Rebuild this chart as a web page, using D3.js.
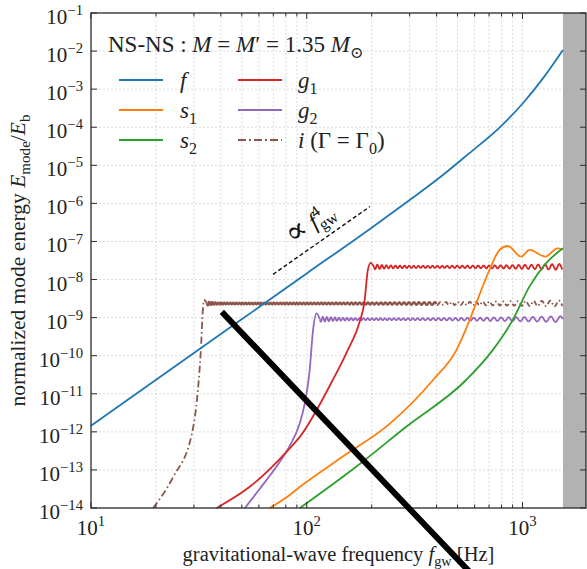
<!DOCTYPE html>
<html>
<head>
<meta charset="utf-8">
<script src="https://cdn.jsdelivr.net/npm/d3@7"></script>
<style>
  body { margin: 0; background: #fff; }
  svg { display: block; font-family: "Liberation Serif", "DejaVu Serif", serif; }
  text { white-space: pre; }
</style>
</head>
<body>
<svg id="chart" width="587" height="569"></svg>
<script>
// Tidally excited mode energies for an equal-mass NS-NS inspiral (M = M' = 1.35 Msun).
// Each series: [gravitational-wave frequency (Hz), E_mode / E_b]
const fMode  = [[10,1.45e-12],[30,1.17e-10],[100,1.45e-8],[200,2.3e-7],[300,1.23e-6],[398,4.04e-6],
                [562,2.0e-5],[783,9.8e-5],[1000,4.13e-4],[1259,2.1e-3],[1540,1.07e-2]];
const s1Mode = [[67.4,1e-14],[83.4,2.2e-14],[93,3.6e-14],[147,2.24e-13],[242,1.62e-12],[385,2.3e-11],
                [493,1.38e-10],[550,5.4e-10],[610,2.4e-9],[703,1.78e-8],[783,6e-8],[855,7.6e-8],
                [986,4e-8],[1077,6e-8],[1277,4e-8],[1452,6.6e-8],[1540,6.2e-8]];
const s2Mode = [[93,1e-14],[170,1.23e-13],[290,1.38e-12],[548,2.3e-11],[728,1.4e-10],[902,8.7e-10],
                [1077,6.5e-9],[1288,2.7e-8],[1540,6.6e-8]];
const g1Mode = [[38.2,1e-14],[54.4,3.6e-14],[83.4,3.7e-13],[92.9,7.4e-13],[132,2.3e-11],[155,1.4e-10],
                [176,7.8e-10],[185,2.5e-9],[192,1.8e-8],[198,2.75e-8],[205,2.15e-8],[1540,2.15e-8]];
const g2Mode = [[51.7,1e-14],[60.5,3.16e-14],[72.4,1.23e-13],[83.4,4.27e-13],[92.9,1.7e-12],[98,5.7e-12],
                [103,3.7e-11],[107,4.8e-10],[111,1.3e-9],[115,9.1e-10],[1540,9.1e-10]];
const iMode  = [[19.4,1e-14],[24,6.4e-14],[29.4,9.3e-13],[31.3,1.26e-11],[32.3,1.4e-10],[33,1.6e-9],
                [33.4,2.9e-9],[34.5,2.35e-9],[1540,2.35e-9]];

const contactFreq = 1540;                 // start of the shaded post-contact band
const xDomain = [10, 1970];
const yExponents = [-14,-13,-12,-11,-10,-9,-8,-7,-6,-5,-4,-3,-2,-1];
const xMajor = [10, 100, 1000];
const xMinor = [20,30,40,50,60,70,80,90,200,300,400,500,600,700,800,900];
const xMajorLabels = ["1", "2", "3"];
const slopeGuide = [[69.8,1.37e-8],[196,8.2e-7]];   // reference line ∝ f^4
const strokeLine = [[40.4,1.41e-9],[569,2.1e-16]];

// ---------- layout & styles ----------
const svg = d3.select("#chart");
const P = { left: 91, right: 586, top: 13, bottom: 508 };
const x = d3.scaleLog().domain(xDomain).range([P.left, P.right]);
const y = d3.scaleLog().domain([1e-14, 1e-1]).range([P.bottom, P.top]);

const colors = { f:"#1f77b4", s1:"#ff7f0e", s2:"#2ca02c", g1:"#d62728", g2:"#9467bd", i:"#8c564b" };
const dashDot = "7,3,1.6,3";
const axisColor = "#2b2b2b";
const TICK = 21, XLAB = 20.5, YLAB = 21.5, LEG = 23, NOTE = 23;

// rich text: parts with italic / sub / sup runs
function rich(sel, parts, size) {
  let shift = 0;
  parts.forEach(p => {
    const target = p.sub ? size * 0.24 : p.sup ? -size * 0.42 : 0;
    const ts = sel.append("tspan").attr("dy", target - shift).text(p.t);
    shift = target;
    ts.attr("font-size", (p.sub || p.sup) ? size * 0.7 : size * (p.scale || 1));
    if (p.it) ts.attr("font-style", "italic");
    if (p.dx) ts.attr("dx", p.dx);
    if (p.fam) ts.attr("font-family", p.fam);
  });
  return sel;
}

// ---------- grid ----------
const grid = svg.append("g").attr("stroke", "#d8d8d8").attr("stroke-width", 0.9)
  .attr("stroke-dasharray", "2,2");
xMajor.concat(xMinor).filter(v => v > xDomain[0]).forEach(v => {
  grid.append("line").attr("x1", x(v)).attr("x2", x(v)).attr("y1", P.top).attr("y2", P.bottom);
});
yExponents.forEach(e => {
  grid.append("line").attr("x1", P.left).attr("x2", P.right)
    .attr("y1", y(Math.pow(10, e))).attr("y2", y(Math.pow(10, e)));
});

// ---------- shaded band ----------
svg.append("rect").attr("x", x(contactFreq)).attr("y", P.top)
  .attr("width", x(xDomain[1]) - x(contactFreq)).attr("height", P.bottom - P.top)
  .attr("fill", "#b2b2b2");

// ---------- curves ----------
const line = d3.line().x(d => x(d[0])).y(d => y(d[1])).curve(d3.curveMonotoneX);
const plain = d3.line();

// ringing drawn along a flat plateau, in screen space
const ringStyle = {
  g1: { start: 2.6, base: 1.0, end: 3.0, decay: 14, p0: 4.5, p1: 7.5 },
  g2: { start: 2.8, base: 0.9, end: 3.0, decay: 18, p0: 4.0, p1: 10 },
  i:  { start: 2.2, base: 0.8, end: 3.0, decay: 6,  p0: 3.0, p1: 9 }
};
function ringPoints(series, st) {
  const a = series[series.length - 2], b = series[series.length - 1];
  const x0 = x(a[0]), x1 = x(b[0]), y0 = y(a[1]);
  const pts = [];
  let phase = 0;
  for (let px = x0; px <= x1; px += 0.5) {
    const t = (px - x0) / (x1 - x0);
    const amp = st.base + (st.start - st.base) * Math.exp(-(px - x0) / st.decay)
              + (st.end - st.base) * Math.pow(t, 3);
    const period = st.p0 + (st.p1 - st.p0) * t * t;
    pts.push([px, y0 + amp * Math.sin(2 * Math.PI * phase)]);
    phase += 0.5 / period;
  }
  return pts;
}

const curves = svg.append("g").attr("fill", "none").attr("stroke-width", 1.8)
  .attr("stroke-linejoin", "round");

// i-mode: dash-dot rise, dense ringing (looks solid) then dash-dot tail
curves.append("path").attr("d", line(iMode.slice(0, -1)))
  .attr("stroke", colors.i).attr("stroke-dasharray", dashDot);
{
  const pts = ringPoints(iMode, ringStyle.i);
  const cut = x(400);
  curves.append("path").attr("d", plain(pts.filter(p => p[0] <= cut)))
    .attr("stroke", colors.i).attr("stroke-width", 2.4);
  curves.append("path").attr("d", plain(pts.filter(p => p[0] >= cut)))
    .attr("stroke", colors.i).attr("stroke-dasharray", "5,2.5,1.5,2.5");
}
// g-modes with plateau ringing
[["g2", g2Mode], ["g1", g1Mode]].forEach(([k, s]) => {
  curves.append("path").attr("d", line(s.slice(0, -1))).attr("stroke", colors[k]);
  curves.append("path").attr("d", plain(ringPoints(s, ringStyle[k]))).attr("stroke", colors[k]);
});
// s-modes and f-mode
[["s1", s1Mode], ["s2", s2Mode], ["f", fMode]].forEach(([k, s]) => {
  curves.append("path").attr("d", line(s)).attr("stroke", colors[k]);
});

// ∝ f^4 guide
svg.append("path").attr("d", plain(slopeGuide.map(d => [x(d[0]), y(d[1])])))
  .attr("stroke", "#111").attr("stroke-width", 1.4).attr("stroke-dasharray", "4,2.5").attr("fill", "none");
{
  const cx = x(109), cy = y(2.0e-7);
  const t = svg.append("text").attr("transform", `translate(${cx},${cy}) rotate(-35)`)
    .attr("text-anchor", "middle").attr("font-size", NOTE).attr("fill", "#111");
  rich(t, [{ t: "∝", fam: "DejaVu Serif", scale: 1.35 }, { t: " " }, { t: "f", it: true }, { t: "4", sup: true },
           { t: "gw", sub: true, dx: -8 }], NOTE);
}

// ---------- axes frame & ticks ----------
const ax = svg.append("g").attr("stroke", axisColor);
ax.append("rect").attr("x", P.left).attr("y", P.top).attr("width", P.right - P.left)
  .attr("height", P.bottom - P.top).attr("fill", "none").attr("stroke-width", 1.3);
xMajor.forEach(v => {
  ax.append("line").attr("x1", x(v)).attr("x2", x(v)).attr("y1", P.bottom).attr("y2", P.bottom - 6);
  ax.append("line").attr("x1", x(v)).attr("x2", x(v)).attr("y1", P.top).attr("y2", P.top + 6);
});
xMinor.forEach(v => {
  ax.append("line").attr("x1", x(v)).attr("x2", x(v)).attr("y1", P.bottom).attr("y2", P.bottom - 3.5);
  ax.append("line").attr("x1", x(v)).attr("x2", x(v)).attr("y1", P.top).attr("y2", P.top + 3.5);
});
yExponents.forEach(e => {
  const yy = y(Math.pow(10, e));
  ax.append("line").attr("x1", P.left).attr("x2", P.left + 6).attr("y1", yy).attr("y2", yy);
  ax.append("line").attr("x1", P.right).attr("x2", P.right - 6).attr("y1", yy).attr("y2", yy);
});

// tick labels
yExponents.forEach(e => {
  const t = svg.append("text").attr("x", 83).attr("y", y(Math.pow(10, e)) + 11)
    .attr("text-anchor", "end").attr("font-size", TICK).attr("fill", "#222");
  rich(t, [{ t: "10" }, { t: "−" + Math.abs(e), sup: true }], TICK);
});
xMajor.forEach((v, i) => {
  const t = svg.append("text").attr("x", x(v)).attr("y", 535)
    .attr("text-anchor", "middle").attr("font-size", TICK).attr("fill", "#222");
  rich(t, [{ t: "10" }, { t: xMajorLabels[i], sup: true }], TICK);
});

// axis titles
{
  const t = svg.append("text").attr("x", (P.left + P.right) / 2).attr("y", 561)
    .attr("text-anchor", "middle").attr("font-size", XLAB).attr("fill", "#222");
  rich(t, [{ t: "gravitational-wave frequency " }, { t: "f", it: true }, { t: "gw", sub: true }, { t: " [Hz]" }], XLAB);
  const u = svg.append("text").attr("transform", `translate(25,${(P.top + P.bottom) / 2}) rotate(-90)`)
    .attr("text-anchor", "middle").attr("font-size", YLAB).attr("fill", "#222");
  rich(u, [{ t: "normalized mode energy " }, { t: "E", it: true }, { t: "mode", sub: true },
           { t: "/" }, { t: "E", it: true }, { t: "b", sub: true }], YLAB);
}

// ---------- legend ----------
const legendCols = [
  [{ k: "f", label: [{ t: "f", it: true }] },
   { k: "s1", label: [{ t: "s", it: true }, { t: "1", sub: true }] },
   { k: "s2", label: [{ t: "s", it: true }, { t: "2", sub: true }] }],
  [{ k: "g1", label: [{ t: "g", it: true }, { t: "1", sub: true }] },
   { k: "g2", label: [{ t: "g", it: true }, { t: "2", sub: true }] },
   { k: "i", label: [{ t: "i", it: true }, { t: " (Γ = Γ" }, { t: "0", sub: true }, { t: ")" }], dash: true }]
];
const leg = svg.append("g");
{
  const t = leg.append("text").attr("x", 108).attr("y", 52).attr("font-size", LEG).attr("fill", "#222");
  rich(t, [{ t: "NS-NS : " }, { t: "M", it: true }, { t: " = " }, { t: "M", it: true }, { t: "′ = 1.35 " },
           { t: "M", it: true }, { t: "⊙", sub: true }], LEG);
}
const colX = [[119, 163, 180], [238, 282, 298]];
legendCols.forEach((col, ci) => {
  col.forEach((ent, ri) => {
    const ly = 80 + ri * 30;
    leg.append("line").attr("x1", colX[ci][0]).attr("x2", colX[ci][1]).attr("y1", ly).attr("y2", ly)
      .attr("stroke", colors[ent.k]).attr("stroke-width", 2)
      .attr("stroke-dasharray", ent.dash ? "8,3,2,3" : null);
    const t = leg.append("text").attr("x", colX[ci][2]).attr("y", ly + 8)
      .attr("font-size", LEG).attr("fill", "#222");
    rich(t, ent.label, LEG);
  });
});

// ---------- heavy stroke across the panel ----------
svg.append("path").attr("d", plain(strokeLine.map(d => [x(d[0]), y(d[1])])))
  .attr("stroke", "#000").attr("stroke-width", 6).attr("fill", "none");
</script>
</body>
</html>
